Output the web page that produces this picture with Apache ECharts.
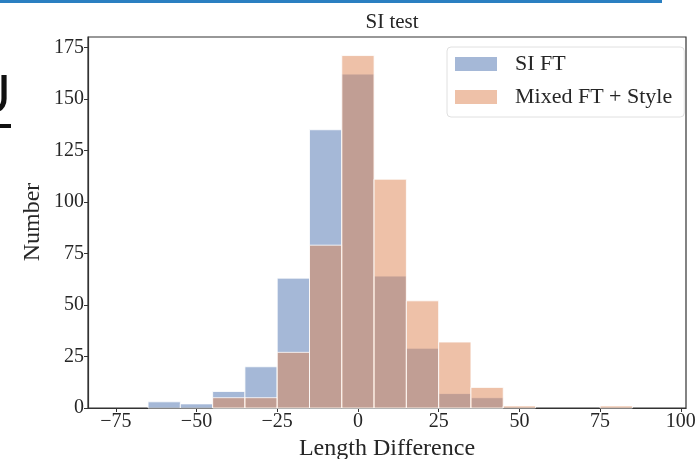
<!DOCTYPE html>
<html>
<head>
<meta charset="utf-8">
<script src="https://cdn.jsdelivr.net/npm/echarts@6/dist/echarts.min.js"></script>
<style>html,body{margin:0;padding:0;background:#fff}#c{width:699px;height:459px}</style>
</head>
<body>
<div id="c"></div>
<script>
const binWidth = 10;
const binCenters = [-60,-50,-40,-30,-20,-10,0,10,20,30,40,50,60,70,80];
const siFT =  [3,2,8,20,63,135,162,64,29,7,5,0,0,0,0];
const mixed = [0,0,5,5,27,79,171,111,52,32,10,1,0,0,1];
const xTicks = [-75,-50,-25,0,25,50,75,100];
const yTicks = [0,25,50,75,100,125,150,175];

const serif = '"Liberation Serif", "DejaVu Serif", serif';
function toData(vals){
  return binCenters.map((c,i)=>[c-binWidth/2, c+binWidth/2, vals[i]]).filter(d=>d[2]>0);
}
function renderBar(params, api){
  const p0 = api.coord([api.value(0), 0]);
  const p1 = api.coord([api.value(1), api.value(2)]);
  return {
    type:'rect',
    shape:{x:p0[0], y:p1[1], width:p1[0]-p0[0], height:p0[1]-p1[1]},
    style:{fill: api.visual('color'), stroke:'rgba(255,255,255,0.8)', lineWidth:1}
  };
}
const chart = echarts.init(document.getElementById('c'));
chart.setOption({
  animation:false,
  backgroundColor:'#fff',
  title:{text:'SI test', left:387, textAlign:'center', top:7,
    textStyle:{fontFamily:serif, fontSize:21, fontWeight:'normal', color:'#262626'}},
  grid:{left:88, right:13, top:37, bottom:51, show:true, borderColor:'#333', borderWidth:1.2,
    containLabel:false, outerBoundsMode:'none'},
  legend:{
    orient:'vertical', left:447, top:47,
    padding:[6,12,9,8], itemGap:11, itemWidth:42, itemHeight:14, icon:'rect',
    backgroundColor:'#fff', borderColor:'#e0e0e0', borderWidth:1, borderRadius:4,
    textStyle:{fontFamily:serif, fontSize:22, color:'#262626', padding:[0,0,0,13]},
    data:['SI FT','Mixed FT + Style']
  },
  xAxis:{
    type:'value', min:-83.6, max:101.6,
    name:'Length Difference', nameLocation:'middle', nameGap:27,
    nameTextStyle:{fontFamily:serif, fontSize:24, color:'#262626'},
    axisLine:{show:true, onZero:false, lineStyle:{color:'#333', width:1.2}},
    axisTick:{show:true, length:4, customValues:xTicks, lineStyle:{color:'#333'}},
    axisLabel:{customValues:xTicks, fontFamily:serif, fontSize:20, color:'#262626', margin:4,
      formatter:v=> (v<0 ? '\u2212'+Math.abs(v) : String(v))},
    splitLine:{show:false}
  },
  yAxis:{
    type:'value', min:0, max:180,
    axisLine:{show:true, onZero:false, lineStyle:{color:'#333', width:1.2}},
    axisTick:{show:true, length:4, customValues:yTicks, lineStyle:{color:'#333'}},
    axisLabel:{customValues:yTicks, fontFamily:serif, fontSize:20, color:'#262626', margin:4},
    splitLine:{show:false}
  },
  series:[
    {name:'SI FT', type:'custom', renderItem:renderBar, data:toData(siFT),
      itemStyle:{color:'rgba(76,114,176,0.5)'}, encode:{x:[0,1], y:2}},
    {name:'Mixed FT + Style', type:'custom', renderItem:renderBar, data:toData(mixed),
      itemStyle:{color:'rgba(221,132,82,0.5)'}, encode:{x:[0,1], y:2}}
  ],
  graphic:[
    {type:'text', x:33, y:222, rotation:Math.PI/2,
      style:{text:'Number', font:'24px "Liberation Serif", serif', fill:'#262626', align:'center', verticalAlign:'middle'}},
    {type:'rect', left:0, top:0, shape:{x:0,y:0,width:662,height:3}, style:{fill:'#2a7fc1'}},
    {type:'text', x:11, y:70, style:{text:'U', font:'56px "Liberation Sans", sans-serif', fill:'#111', align:'right', verticalAlign:'top'}},
    {type:'rect', shape:{x:0,y:124,width:11,height:4}, style:{fill:'#111'}}
  ]
});
</script>
</body>
</html>
